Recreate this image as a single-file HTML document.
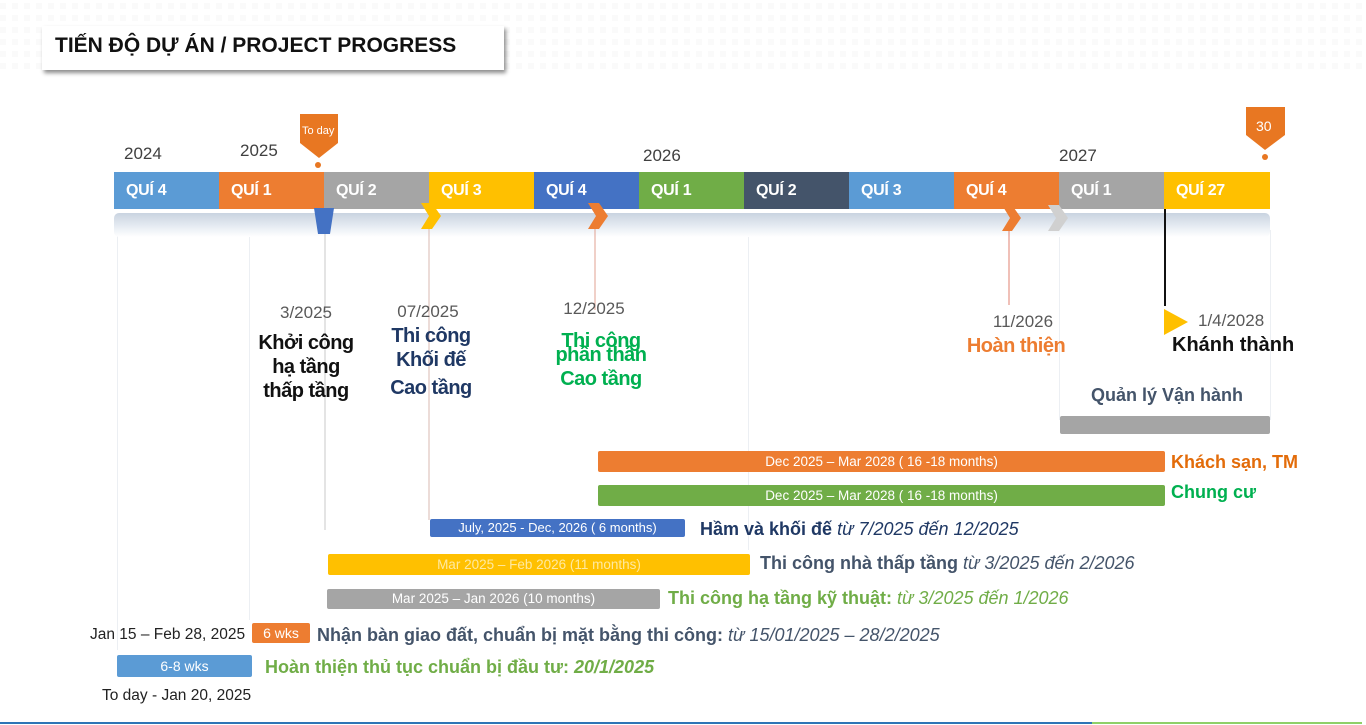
<!DOCTYPE html>
<html><head><meta charset="utf-8">
<style>
body{margin:0;width:1366px;height:725px;position:relative;background:#fff;overflow:hidden;font-family:"Liberation Sans",sans-serif;}
.t{position:absolute;white-space:nowrap;line-height:1;}
.c{position:absolute;width:240px;text-align:center;white-space:nowrap;line-height:1;}
.q{position:absolute;top:172px;height:37px;color:#fff;font-weight:bold;font-size:16px;line-height:37px;padding-left:12px;box-sizing:border-box;letter-spacing:-0.3px}
.bar{position:absolute;color:#fff;font-size:13.5px;text-align:center;border-radius:2px;}
.vl{position:absolute;width:1px;background:#eceff3;}
.y{font-size:17px;color:#404040}
.lb{font-size:18px;}
</style></head><body>
<!-- faint background pattern -->
<div style="position:absolute;left:0;top:0;width:1366px;height:75px;background:repeating-linear-gradient(90deg,#f6f6f6 0 6px,#fff 6px 12px);opacity:.5"></div>
<div style="position:absolute;left:0;top:0;width:1366px;height:75px;background:repeating-linear-gradient(0deg,#fff 0 6px,transparent 6px 12px)"></div>
<!-- title -->
<div style="position:absolute;left:42px;top:26px;width:462px;height:44px;background:#fff;box-shadow:2px 3px 4px rgba(0,0,0,.45)"></div>
<div class="t" style="left:55px;top:35px;font-size:21px;font-weight:bold;color:#111;">TIẾN ĐỘ DỰ ÁN / PROJECT PROGRESS</div>

<!-- vertical faint lines -->
<div class="vl" style="left:117px;top:230px;height:420px"></div>
<div class="vl" style="left:249px;top:230px;height:390px"></div>
<div class="vl" style="left:748px;top:230px;height:320px"></div>
<div class="vl" style="left:1059px;top:230px;height:190px"></div>
<div class="vl" style="left:1270px;top:230px;height:190px"></div>

<!-- band -->
<div style="position:absolute;left:114px;top:213px;width:1156px;height:24px;border-radius:5px;background:linear-gradient(#c9d3e0,#e9eef4 60%,#fff)"></div>

<!-- years -->
<div class="t y" style="left:124px;top:145px">2024</div>
<div class="t y" style="left:240px;top:142px">2025</div>
<div class="t y" style="left:643px;top:147px">2026</div>
<div class="t y" style="left:1059px;top:147px">2027</div>

<!-- quarters -->
<div class="q" style="left:114px;width:105px;background:#5b9bd5">QUÍ 4</div>
<div class="q" style="left:219px;width:105px;background:#ed7d31">QUÍ 1</div>
<div class="q" style="left:324px;width:105px;background:#a5a5a5">QUÍ 2</div>
<div class="q" style="left:429px;width:105px;background:#ffc000">QUÍ 3</div>
<div class="q" style="left:534px;width:105px;background:#4472c4">QUÍ 4</div>
<div class="q" style="left:639px;width:105px;background:#70ad47">QUÍ 1</div>
<div class="q" style="left:744px;width:105px;background:#44546a">QUÍ 2</div>
<div class="q" style="left:849px;width:105px;background:#5b9bd5">QUÍ 3</div>
<div class="q" style="left:954px;width:105px;background:#ed7d31">QUÍ 4</div>
<div class="q" style="left:1059px;width:105px;background:#a5a5a5">QUÍ 1</div>
<div class="q" style="left:1164px;width:106px;background:#ffc000">QUÍ 27</div>

<svg style="position:absolute;left:0;top:0" width="1366" height="725">
 <path d="M300 114H338V143L319 158L300 143Z" fill="#e87722"/>
 <circle cx="318" cy="165" r="3" fill="#e87722"/>
 <text x="302" y="134" font-family="Liberation Sans" font-size="11" fill="#fff">To day</text>
 <path d="M1246 107H1285V135L1265 150L1246 135Z" fill="#e87722"/>
 <circle cx="1265" cy="157" r="3" fill="#e87722"/>
 <text x="1256" y="131" font-family="Liberation Sans" font-size="14" fill="#fff">30</text>
 <line x1="325" y1="232" x2="325" y2="530" stroke="#c8c8c8"/>
 <line x1="429" y1="228" x2="429" y2="520" stroke="#d9b8b0"/>
 <line x1="595" y1="228" x2="595" y2="310" stroke="#e0a090"/>
 <line x1="1009" y1="228" x2="1009" y2="305" stroke="#e08070"/>
 <line x1="1165" y1="209" x2="1165" y2="306" stroke="#111" stroke-width="2"/>
 <path d="M314 208H334L330 234H318Z" fill="#4472c4"/>
 <path d="M421 203H432L441 216L432 229H421L429 216Z" fill="#ffc000"/>
 <path d="M588 203H599L608 216L599 229H588L596 216Z" fill="#ed7d31"/>
 <path d="M1002 205H1012L1021 218L1012 231H1002L1010 218Z" fill="#ed7d31"/>
 <path d="M1048 205H1059L1068 218L1059 231H1048L1056 218Z" fill="#d0d0d0"/>
 <path d="M1164 309L1188 322L1164 335Z" fill="#ffc000"/>
 <line x1="0" y1="723" x2="1092" y2="723" stroke="#2e75b6" stroke-width="2"/>
 <line x1="1092" y1="723" x2="1362" y2="723" stroke="#8fd068" stroke-width="2"/>
</svg>

<!-- milestone labels -->
<div class="c y" style="left:186px;top:304px;color:#595959">3/2025</div>
<div class="c" style="left:186px;top:331px;font-size:20px;font-weight:bold;color:#111;line-height:24px;letter-spacing:-0.5px">Khởi công<br>hạ tầng<br>thấp tầng</div>
<div class="c y" style="left:308px;top:303px;color:#595959">07/2025</div>
<div class="c" style="left:311px;top:324px;font-size:20px;font-weight:bold;color:#1f3864;line-height:24px;letter-spacing:-0.5px">Thi công<br>Khối đế<br><span style="position:relative;top:4px">Cao tầng</span></div>
<div class="c y" style="left:474px;top:300px;color:#595959">12/2025</div>
<div class="c" style="left:481px;top:334px;font-size:20px;font-weight:bold;color:#00b050;line-height:14px;letter-spacing:-0.5px">Thi công<br>phần thân</div>
<div class="c" style="left:481px;top:369px;font-size:20px;font-weight:bold;color:#00b050;letter-spacing:-0.5px">Cao tầng</div>
<div class="c y" style="left:903px;top:313px;color:#595959">11/2026</div>
<div class="c" style="left:896px;top:336px;font-size:20px;font-weight:bold;color:#ed7d31;letter-spacing:-0.5px">Hoàn thiện</div>
<div class="t y" style="left:1198px;top:312px;color:#595959">1/4/2028</div>
<div class="t" style="left:1172px;top:335px;font-size:20px;font-weight:bold;color:#111;">Khánh thành</div>
<div class="c" style="left:1047px;top:386px;font-size:18px;font-weight:bold;color:#44546a;">Quản lý Vận hành</div>

<!-- bars -->
<div class="bar" style="left:1060px;top:416px;width:210px;height:18px;background:#a5a5a5"></div>
<div class="bar" style="left:598px;top:451px;width:567px;height:21px;line-height:21px;background:#ed7d31">Dec 2025 – Mar 2028 ( 16 -18 months)</div>
<div class="t lb" style="left:1171px;top:453px;font-weight:bold;color:#e36c0a;">Khách sạn, TM</div>
<div class="bar" style="left:598px;top:485px;width:567px;height:21px;line-height:21px;background:#70ad47">Dec 2025 – Mar 2028 ( 16 -18 months)</div>
<div class="t lb" style="left:1171px;top:483px;font-weight:bold;color:#00b050;">Chung cư</div>
<div class="bar" style="left:430px;top:519px;width:255px;height:18px;line-height:18px;background:#4472c4;font-size:13px">July, 2025 - Dec, 2026 ( 6 months)</div>
<div class="t lb" style="left:700px;top:520px;color:#1f3864;"><b>Hầm và khối đế</b> <i>từ 7/2025 đến 12/2025</i></div>
<div class="bar" style="left:328px;top:554px;width:422px;height:21px;line-height:21px;background:#ffc000;color:#ffe9a0">Mar 2025 – Feb 2026 (11 months)</div>
<div class="t lb" style="left:760px;top:554px;color:#44546a;"><b>Thi công nhà thấp tầng</b> <i>từ 3/2025 đến 2/2026</i></div>
<div class="bar" style="left:327px;top:589px;width:333px;height:20px;line-height:20px;background:#a5a5a5">Mar 2025 – Jan 2026 (10 months)</div>
<div class="t lb" style="left:668px;top:589px;color:#70ad47;"><b>Thi công hạ tầng kỹ thuật:</b> <i>từ 3/2025 đến 1/2026</i></div>
<div class="t" style="left:90px;top:627px;font-size:15.5px;color:#222;">Jan 15 – Feb 28, 2025</div>
<div class="bar" style="left:252px;top:623px;width:58px;height:20px;line-height:20px;background:#ed7d31;font-size:14px">6 wks</div>
<div class="t lb" style="left:317px;top:626px;color:#44546a;"><b>Nhận bàn giao đất, chuẩn bị mặt bằng thi công:</b> <i>từ 15/01/2025 – 28/2/2025</i></div>
<div class="bar" style="left:117px;top:655px;width:135px;height:22px;line-height:22px;background:#5b9bd5;font-size:14px">6-8 wks</div>
<div class="t lb" style="left:265px;top:658px;color:#70ad47;"><b>Hoàn thiện thủ tục chuẩn bị đầu tư: <i>20/1/2025</i></b></div>
<div class="t" style="left:102px;top:688px;font-size:15.5px;color:#222;">To day - Jan 20, 2025</div>
</body></html>
